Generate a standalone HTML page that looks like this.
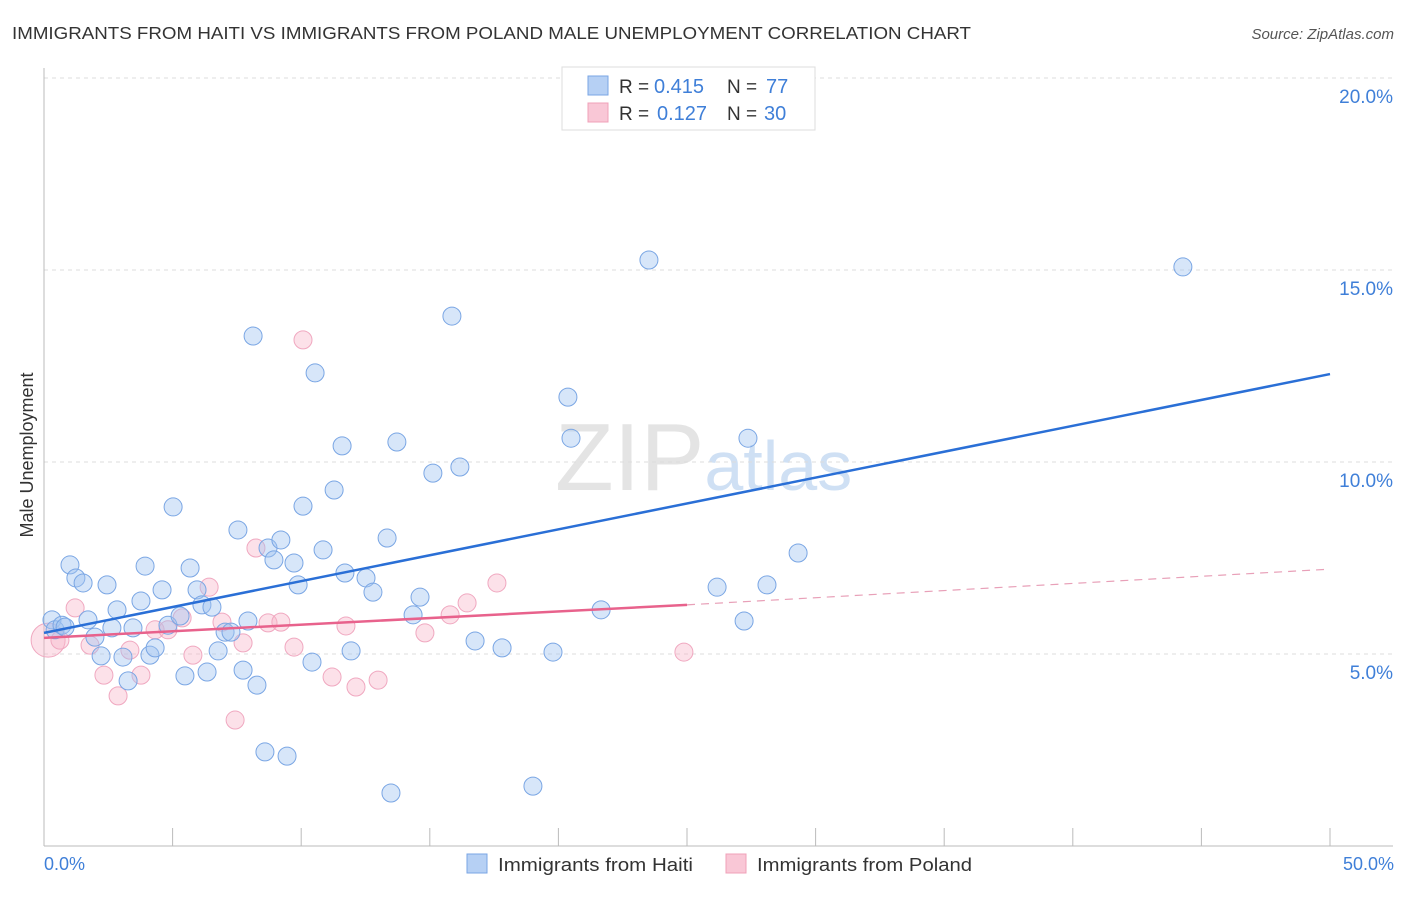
<!DOCTYPE html>
<html><head><meta charset="utf-8"><style>
body{margin:0;background:#fff;font-family:"Liberation Sans",sans-serif;}
svg text{font-family:"Liberation Sans",sans-serif;}
</style></head><body>
<svg id="chart" width="1406" height="892" xmlns="http://www.w3.org/2000/svg">
<text x="12" y="39" font-size="17.5" fill="#333" textLength="959" lengthAdjust="spacingAndGlyphs">IMMIGRANTS FROM HAITI VS IMMIGRANTS FROM POLAND MALE UNEMPLOYMENT CORRELATION CHART</text>
<text x="1394" y="39" font-size="15" fill="#555" text-anchor="end" font-style="italic">Source: ZipAtlas.com</text>
<text x="555" y="490" font-size="96" fill="#e4e4e4" font-family="Liberation Serif,serif">ZIP<tspan fill="#cfe0f4" font-family="Liberation Sans,sans-serif" font-size="70">atlas</tspan></text>
<g id="grid"></g><g id="axes"></g><g id="pts"></g><g id="lines"></g>
<text transform="translate(33,455) rotate(-90)" font-size="18" fill="#333" text-anchor="middle">Male Unemployment</text>
<text x="44" y="870" font-size="18" fill="#3f7fd8">0.0%</text>
<text x="1394" y="870" font-size="18" fill="#3f7fd8" text-anchor="end">50.0%</text>
<g>
<rect x="562" y="67" width="253" height="63" fill="#fff" stroke="#ddd"/>
<rect x="588" y="76" width="20" height="19" fill="#b6d0f4" stroke="#7aa6e4"/>
<rect x="588" y="103" width="20" height="19" fill="#f9c7d6" stroke="#f0a0b8"/>
<text x="619" y="93" font-size="19" fill="#333">R =</text>
<text x="654" y="93" font-size="20" fill="#3f7fd8">0.415</text>
<text x="727" y="93" font-size="19" fill="#333">N =</text>
<text x="766" y="93" font-size="20" fill="#3f7fd8">77</text>
<text x="619" y="120" font-size="19" fill="#333">R =</text>
<text x="657" y="120" font-size="20" fill="#3f7fd8">0.127</text>
<text x="727" y="120" font-size="19" fill="#333">N =</text>
<text x="764" y="120" font-size="20" fill="#3f7fd8">30</text>
</g>
<g>
<rect x="467" y="854" width="20" height="19" fill="#b6d0f4" stroke="#7aa6e4"/>
<text x="498" y="871" font-size="18.5" fill="#333" textLength="195" lengthAdjust="spacingAndGlyphs">Immigrants from Haiti</text>
<rect x="726" y="854" width="20" height="19" fill="#f9c7d6" stroke="#f0a0b8"/>
<text x="757" y="871" font-size="18.5" fill="#333" textLength="215" lengthAdjust="spacingAndGlyphs">Immigrants from Poland</text>
</g>
</svg>
<script>
const yTicks=[5,10,15,20];
const yTickLabels=["5.0%","10.0%","15.0%","20.0%"];
const xTicks=[0,5,10,15,20,25,30,35,40,45,50];
const haitiX=[0.31,0.43,0.70,0.82,1.01,1.24,1.52,1.71,1.98,2.22,2.45,2.64,2.84,3.07,3.27,3.46,3.77,3.93,4.12,4.32,4.59,4.82,5.02,5.29,5.48,5.68,5.95,6.14,6.34,6.53,6.77,7.04,7.27,7.54,7.74,7.93,8.13,8.28,8.59,8.71,8.94,9.21,9.45,9.72,9.88,10.07,10.42,10.54,10.85,11.28,11.59,11.70,11.94,12.52,12.79,13.34,13.49,13.72,14.35,14.62,15.12,15.86,16.17,16.76,17.81,19.01,19.79,20.37,20.49,21.66,23.52,26.17,27.22,27.37,28.11,29.32,44.28];
const haitiY=[5.89,5.63,5.75,5.70,7.32,6.98,6.85,5.89,5.44,4.95,6.80,5.68,6.15,4.92,4.30,5.68,6.38,7.29,4.97,5.16,6.67,5.75,8.83,5.99,4.43,7.24,6.67,6.28,4.53,6.22,5.08,5.57,5.57,8.23,4.58,5.86,13.28,4.19,2.45,7.76,7.45,7.97,2.34,7.37,6.80,8.85,4.79,12.32,7.71,9.27,10.42,7.11,5.08,6.98,6.61,8.02,1.38,10.52,6.02,6.48,9.71,13.80,9.87,5.34,5.16,1.56,5.05,11.69,10.62,6.15,15.26,6.74,5.86,10.62,6.80,7.63,15.08];
const polandX=[0.16,0.62,1.21,1.79,2.33,2.88,3.34,3.77,4.32,4.82,5.37,5.79,6.42,6.92,7.43,7.74,8.24,8.71,9.21,9.72,10.07,11.20,11.74,12.13,12.99,14.81,15.79,16.45,17.61,24.88];
const polandY=[5.36,5.36,6.20,5.23,4.45,3.91,5.10,4.45,5.63,5.63,5.94,4.97,6.74,5.83,3.28,5.29,7.76,5.81,5.83,5.18,13.18,4.40,5.73,4.14,4.32,5.55,6.02,6.33,6.85,5.05];
const haitiTrend=[5.55,12.29];
const polandTrend=[5.42,6.28,7.21];
const NS='http://www.w3.org/2000/svg';
const X=v=>44+v/50*1286, Y=v=>846-v/5*192;
function mk(t,a,p){const e=document.createElementNS(NS,t);for(const k in a)e.setAttribute(k,a[k]);document.getElementById(p).appendChild(e);return e;}
yTicks.forEach((t,i)=>{
 const g=mk('line',{x1:44,x2:1393,y1:Y(t),y2:Y(t),stroke:'#ddd','stroke-dasharray':'4,4'},'grid');
 
 
 const l=mk('text',{x:1393,y:Y(t)+25,'font-size':19,fill:'#3f7fd8','text-anchor':'end'},'grid');
 l.textContent=yTickLabels[i];
 
 
});
const ax=mk('line',{x1:44,x2:1393,y1:846,y2:846,stroke:'#bbb'},'axes');


const ay=mk('line',{x1:44,x2:44,y1:68,y2:846,stroke:'#bbb'},'axes');


xTicks.forEach(t=>{const e=mk('line',{x1:X(t),x2:X(t),y1:828,y2:846,stroke:'#bbb'},'axes');
 
 });
polandX.forEach((x,i)=>{const c=mk('circle',{cx:X(x),cy:Y(polandY[i]),r:i==0?17:9,fill:'rgba(248,180,200,0.4)',stroke:'#f0a8c0','stroke-width':1},'pts');
 
 });
haitiX.forEach((x,i)=>{const c=mk('circle',{cx:X(x),cy:Y(haitiY[i]),r:9,fill:'rgba(160,195,240,0.42)',stroke:'#7aa6e4','stroke-width':1},'pts');
 
 });
const hl=mk('line',{x1:X(0),y1:Y(haitiTrend[0]),x2:X(50),y2:Y(haitiTrend[1]),stroke:'#2a6fd6','stroke-width':2.5},'lines');


const pl=mk('line',{x1:X(0),y1:Y(polandTrend[0]),x2:X(25),y2:Y(polandTrend[1]),stroke:'#e8628c','stroke-width':2.5},'lines');


const pd=mk('line',{x1:X(25),y1:Y(polandTrend[1]),x2:X(50),y2:Y(polandTrend[2]),stroke:'#e8a0b8','stroke-width':1.2,'stroke-dasharray':'8,6'},'lines');


</script>
</body></html>
